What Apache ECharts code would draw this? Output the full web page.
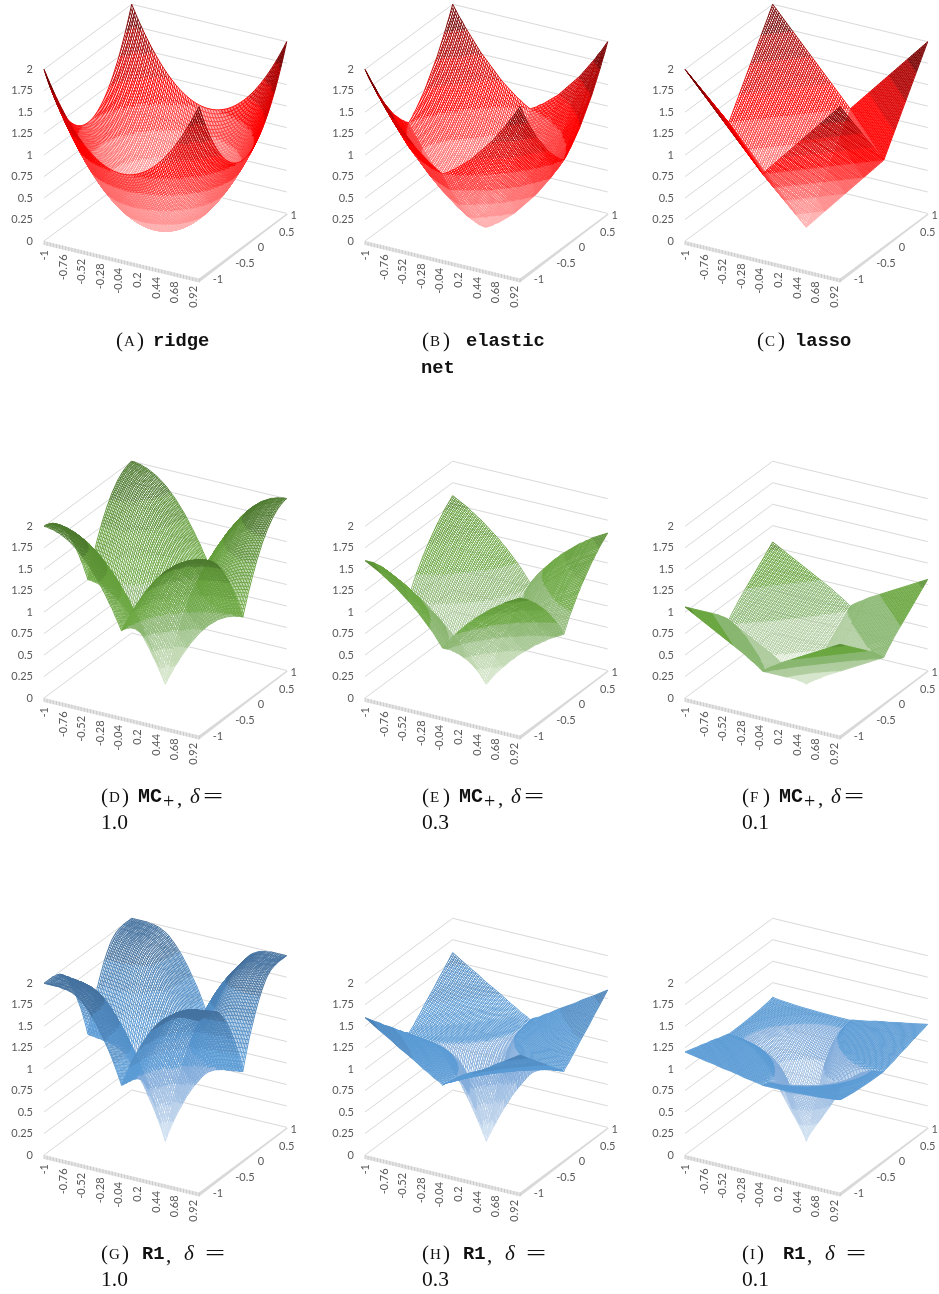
<!DOCTYPE html>
<html><head><meta charset="utf-8">
<style>html,body{margin:0;padding:0;background:#fff}#c{width:939px;height:1294px}</style>
<script src="https://cdn.jsdelivr.net/npm/echarts@6/dist/echarts.min.js"></script>
</head><body><div id="c"></div>
<script>
// axis ticks
const zTicks = [0, 0.25, 0.5, 0.75, 1, 1.25, 1.5, 1.75, 2];
const xTicks = [-1, -0.76, -0.52, -0.28, -0.04, 0.2, 0.44, 0.68, 0.92];
const yTicks = [-1, -0.5, 0, 0.5, 1];
// surface height profiles, at |t| = 0, 0.02, ... 1
const ridge   = [0,.0004,.0016,.0036,.0064,.01,.0144,.0196,.0256,.0324,.04,.0484,.0576,.0676,.0784,.09,.1024,.1156,.1296,.1444,.16,.1764,.1936,.2116,.2304,.25,.2704,.2916,.3136,.3364,.36,.3844,.4096,.4356,.4624,.49,.5184,.5476,.5776,.6084,.64,.6724,.7056,.7396,.7744,.81,.8464,.8836,.9216,.9604,1];
const elastic = [0,.01,.02,.03,.04,.055,.07,.08,.09,.105,.12,.135,.15,.165,.18,.195,.21,.225,.24,.26,.28,.30,.32,.34,.36,.38,.40,.42,.44,.46,.48,.50,.52,.545,.57,.595,.62,.645,.67,.695,.72,.745,.77,.80,.83,.855,.88,.91,.94,.97,1];
const lasso   = [0,.02,.04,.06,.08,.1,.12,.14,.16,.18,.2,.22,.24,.26,.28,.3,.32,.34,.36,.38,.4,.42,.44,.46,.48,.5,.52,.54,.56,.58,.6,.62,.64,.66,.68,.7,.72,.74,.76,.78,.8,.82,.84,.86,.88,.9,.92,.94,.96,.98,1];
const mc10    = [0,.04,.08,.115,.15,.19,.23,.26,.29,.325,.36,.39,.42,.45,.48,.51,.54,.565,.59,.615,.64,.665,.69,.71,.73,.75,.77,.79,.81,.825,.84,.855,.87,.885,.9,.91,.92,.93,.94,.95,.96,.965,.97,.978,.985,.988,.99,.995,1,1,1];
const mc03    = [0,.025,.05,.075,.10,.125,.15,.17,.19,.21,.23,.25,.27,.29,.31,.33,.35,.365,.38,.40,.42,.435,.45,.465,.48,.495,.51,.525,.54,.555,.57,.585,.60,.61,.62,.635,.65,.66,.67,.685,.70,.71,.72,.73,.74,.75,.76,.77,.78,.79,.80];
const mc01    = [0,.015,.03,.043,.055,.068,.08,.09,.10,.113,.125,.138,.15,.16,.17,.18,.19,.20,.21,.22,.23,.24,.25,.26,.27,.28,.29,.30,.31,.32,.33,.34,.35,.36,.37,.38,.39,.40,.41,.42,.43,.44,.45,.46,.47,.48,.49,.50,.51,.52,.53];
// R1, delta 1.0: height along the larger and the smaller of |x|, |y|
const r10Hi   = [0,.055,.11,.155,.20,.245,.29,.33,.37,.405,.44,.48,.52,.555,.59,.62,.65,.68,.71,.735,.76,.785,.81,.835,.86,.88,.90,.915,.93,.94,.95,.96,.97,.975,.98,.985,.99,.995,1,1,1,1.005,1.01,1.01,1.01,1.015,1.02,1.02,1.02,1.025,1.03];
const r10Lo   = [0,.05,.10,.145,.19,.235,.28,.32,.36,.395,.43,.465,.50,.535,.57,.60,.63,.66,.69,.715,.74,.765,.79,.81,.83,.85,.87,.885,.90,.91,.92,.93,.94,.945,.95,.955,.96,.96,.96,.965,.97,.97,.97,.97,.97,.97,.97,.97,.97,.97,.97];
// R1, delta 0.3 and 0.1: contours are star shaped, so height is read against a stretched sum of |x| and |y|
const r1Stretch = [0,.079,.123,.161,.194,.224,.252,.279,.304,.328,.351,.374,.395,.417,.437,.457,.477,.496,.515,.533,.551,.569,.586,.604,.621,.637,.654,.670,.686,.702,.718,.733,.748,.763,.778,.793,.808,.822,.837,.851,.865,.879,.893,.907,.920,.934,.947,.961,.974,.987,1];
const r03Rise = [0,.02,.05,.08,.12,.17,.22,.28,.34,.40,.46,.52,.59,.65,.71,.77,.83,.89,.935,.965,.99,1.005,1.015,1.02,1.025,1.03,1.04,1.05,1.06,1.07,1.08,1.09,1.11,1.13,1.15,1.165,1.19,1.215,1.24,1.265,1.29,1.315,1.34,1.37,1.405,1.435,1.465,1.495,1.53,1.565,1.6];
const r01Rise = [0,.02,.05,.08,.115,.15,.19,.235,.28,.33,.385,.44,.50,.57,.64,.73,.785,.83,.875,.915,.95,.975,.995,1.01,1.02,1.03,1.032,1.036,1.04,1.043,1.046,1.05,1.056,1.06,1.065,1.07,1.08,1.09,1.095,1.105,1.11,1.115,1.125,1.135,1.145,1.15,1.16,1.17,1.18,1.19,1.2];
// band colours, lowest to highest
const reds   = ['#FFB2B2','#FF8F8F','#FF6A6A','#FF3636','#FF0000','#DC0000','#AE0000','#7A0000'];
const greens = ['#D6E6CB','#C2D9B3','#A8C896','#8BB671','#6EA945','#66A03D','#5C9136','#4D7A2E'];
const greensF = ['#D6E6CB','#AFCC9E','#88B670','#6AA640','#5C9136','#5C9136','#5C9136','#4D7A2E'];
const blues  = ['#D0E0F1','#BAD1EA','#A2C1E4','#84ADDB','#5B9BD5','#5490C8','#4C84B8','#44729F'];

const colX = [44, 365, 685], rowY = [241, 698, 1155];
const panels = [
  {c:0,r:0,hi:ridge,lo:ridge,pal:reds},{c:1,r:0,hi:elastic,lo:elastic,pal:reds},{c:2,r:0,hi:lasso,lo:lasso,pal:reds},
  {c:0,r:1,hi:mc10,lo:mc10,pal:greens},{c:1,r:1,hi:mc03,lo:mc03,pal:greens},{c:2,r:1,hi:mc01,lo:mc01,pal:greensF},
  {c:0,r:2,hi:r10Hi,lo:r10Lo,pal:blues},{c:1,r:2,rise:r03Rise,pal:blues},{c:2,r:2,rise:r01Rise,round:true,pal:blues}
];
const N = 100, STEP = 0.02, TICK_EVERY = 2, GRAY = '#D9D9D9', TXT = '#595959', FONT = '11px Lato', WIRE = 0.95;
echarts.graphic.registerShape('wire', echarts.graphic.extendShape({
  type:'wire',
  shape:{segs:[]},
  style:{fill:null},
  buildPath(ctx, shape) {
    const s = shape.segs;
    for (let k = 0; k < s.length; k += 4) { ctx.moveTo(s[k], s[k+1]); ctx.lineTo(s[k+2], s[k+3]); }
  }
}));
function proj(x, y, z) {
  const a = (x + 1) / 2, b = (y + 1) / 2;
  return [a * 155 + b * 87.7, -a * 37.4 + b * 65 + z * 85.85];
}
function look(table, pos) {
  const k = Math.min(table.length - 2, Math.floor(pos)), f = pos - k;
  return table[k] * (1 - f) + table[k + 1] * f;
}
function height(p, i, j) {
  const a = Math.abs(i - 50), b = Math.abs(j - 50);
  if (p.rise) {
    // the delta 0.1 panel has round contours where x and y differ in sign (far and near corners)
    if (p.round && (i - 50) * (j - 50) < 0) {
      const r = Math.hypot(a, b);
      const s = r <= 50 ? look(r1Stretch, r) : 1 + (r - 50) * 0.0214;
      return look(p.rise, s * 25);
    }
    return look(p.rise, (r1Stretch[a] + r1Stretch[b]) * 25);
  }
  return p.hi[Math.max(a, b)] + p.lo[Math.min(a, b)];
}
const grids = [], xAxes = [], yAxes = [], series = [];
function addSeries(idx, data, render, z) {
  series.push({type:'custom', xAxisIndex:idx, yAxisIndex:idx, data, renderItem:render, z,
    encode:{x:0, y:1}, silent:true, animation:false, progressive:0, clip:false, tooltip:{show:false}});
}
panels.forEach((p, idx) => {
  const ox = colX[p.c], oy = rowY[p.r];
  grids.push({left:ox - 40, top:oy - 240, width:290, height:320});
  xAxes.push({type:'value', gridIndex:idx, min:-40, max:250, show:false});
  yAxes.push({type:'value', gridIndex:idx, min:-80, max:240, show:false});

  // wall gridlines
  addSeries(idx, zTicks.map(v => [v, 0]), (_, api) => {
    const z = api.value(0);
    const pts = [proj(-1,-1,z), proj(-1,1,z), proj(1,1,z)].map(q => api.coord(q));
    return {type:'polyline', shape:{points:pts}, style:{fill:null, stroke:GRAY, lineWidth:1}};
  }, 1);
  // floor bands
  const floorTicks = []; for (let k = 0; k <= N; k += TICK_EVERY) floorTicks.push([k, 0]);
  addSeries(idx, [[0,0]], (_, api) => {
    const a = api.coord(proj(-1,-1,0)), b = api.coord(proj(1,-1,0)), c = api.coord(proj(1,1,0));
    const t = 4;
    return {type:'group', children:[
      {type:'polygon', shape:{points:[a,b,[b[0],b[1]+t],[a[0],a[1]+t]]}, style:{fill:'#E4E4E4'}},
      {type:'polygon', shape:{points:[b,c,[c[0]+1,c[1]+1],[b[0],b[1]+t]]}, style:{fill:GRAY}}
    ]};
  }, 1);
  addSeries(idx, floorTicks, (_, api) => {
    const q = api.coord(proj(-1 + api.value(0) * STEP, -1, 0));
    return {type:'line', shape:{x1:q[0], y1:q[1], x2:q[0], y2:q[1] + 4}, style:{stroke:'#C4C4C4', lineWidth:0.8}};
  }, 2);

  // wire surface, one row of cells per datum, far rows first
  const rows = [];
  for (let i = 0; i <= N; i++) rows.push([i, 0]);
  addSeries(idx, rows, (_, api) => {
    const i = api.value(0);
    const P = (a, b) => api.coord(proj(-1 + a * STEP, -1 + b * STEP, height(p, a, b)));
    const byBand = p.pal.map(() => []);
    const edge = (a, b, c, d) => {
      const m = (height(p, a, b) + height(p, c, d)) / 2;
      const band = Math.max(0, Math.min(7, Math.floor(m / 0.25)));
      const u = P(a, b), v = P(c, d);
      byBand[band].push(u[0], u[1], v[0], v[1]);
    };
    for (let j = N; j >= 0; j--) {
      if (j < N) edge(i, j + 1, i, j);
      if (i < N) edge(i, j, i + 1, j);
    }
    return {type:'group', children:byBand.map((segs, b) => segs.length ? {type:'wire', shape:{segs}, style:{fill:null, stroke:p.pal[b], lineWidth:WIRE}} : null).filter(Boolean)};
  }, 5);

  // tick labels
  addSeries(idx, zTicks.map(v => [v, 0]), (_, api) => {
    const v = api.value(0), q = api.coord([0, v * 85.85]);
    return {type:'text', x:q[0] - 11, y:q[1], style:{text:String(v), fill:TXT, font:FONT, align:'right', verticalAlign:'middle'}};
  }, 6);
  addSeries(idx, xTicks.map(v => [v, 0]), (_, api) => {
    const v = api.value(0), q = api.coord(proj(v, -1, 0));
    return {type:'text', x:q[0] + 0.5, y:q[1] + 9, rotation:Math.PI / 2,
      style:{text:String(v), fill:TXT, font:FONT, align:'right', verticalAlign:'middle'}};
  }, 6);
  const yNudge = [[19,1],[24,1],[18,1.5],[22,3],[7,2]];
  addSeries(idx, yTicks.map((v, k) => [v, k]), (_, api) => {
    const v = api.value(0), q = api.coord(proj(1, v, 0)), d = yNudge[api.value(1)];
    return {type:'text', x:q[0] + d[0], y:q[1] + d[1],
      style:{text:String(v), fill:TXT, font:FONT, align:'center', verticalAlign:'middle'}};
  }, 6);
});

// captions
const SERIF = '"Liberation Serif"', MONO = '"Liberation Mono"';
const els = [];
function put(x, y, text, font, sx) {
  els.push({type:'text', x, y, scaleX:sx || 1, silent:true, style:{text, font, fill:'#111', align:'left', verticalAlign:'middle'}});
}
const tag = (x, y, L) => { put(x, y, '(', '21px ' + SERIF); put(x + 8, y + 1, L, '15px ' + SERIF);
  put(x + 8 + (L === 'I' ? 7 : 13), y, ')', '21px ' + SERIF); };
const tt = (x, y, s) => put(x, y, s, 'bold 18.8px ' + MONO);
tag(116, 341, 'A'); tt(153, 341, 'ridge');
tag(422, 341, 'B'); tt(466, 341, 'elastic'); tt(421, 368, 'net');
tag(757, 341, 'C'); tt(795, 341, 'lasso');
const mcRow = [[101,'D','1.0'],[422,'E','0.3'],[742,'F','0.1']];
mcRow.forEach(([x, L, d]) => {
  tag(x, 797, L); put(x + 37, 797, 'MC', 'bold 20px ' + MONO);
  put(x + 62, 803, '+', '20px ' + SERIF); put(x + 76, 799, ',', '21px ' + SERIF);
  put(x + 89, 797, 'δ', 'italic 21px ' + SERIF); put(x + 102, 797, '=', '21px ' + SERIF, 1.7);
  put(x, 823, d, '21.5px ' + SERIF);
});
const r1Row = [[101,'G','1.0'],[422,'H','0.3'],[742,'I','0.1']];
r1Row.forEach(([x, L, d]) => {
  tag(x, 1254, L); put(x + 41, 1254, 'R1', 'bold 18.8px ' + MONO);
  put(x + 65, 1256, ',', '21px ' + SERIF);
  put(x + 83, 1254, 'δ', 'italic 21px ' + SERIF); put(x + 104, 1254, '=', '21px ' + SERIF, 1.7);
  put(x, 1280, d, '21.5px ' + SERIF);
});

const chart = echarts.init(document.getElementById('c'), null, {renderer:'canvas'});
chart.setOption({animation:false, backgroundColor:'#fff', grid:grids, xAxis:xAxes, yAxis:yAxes, series, graphic:{elements:els}});
</script></body></html>
